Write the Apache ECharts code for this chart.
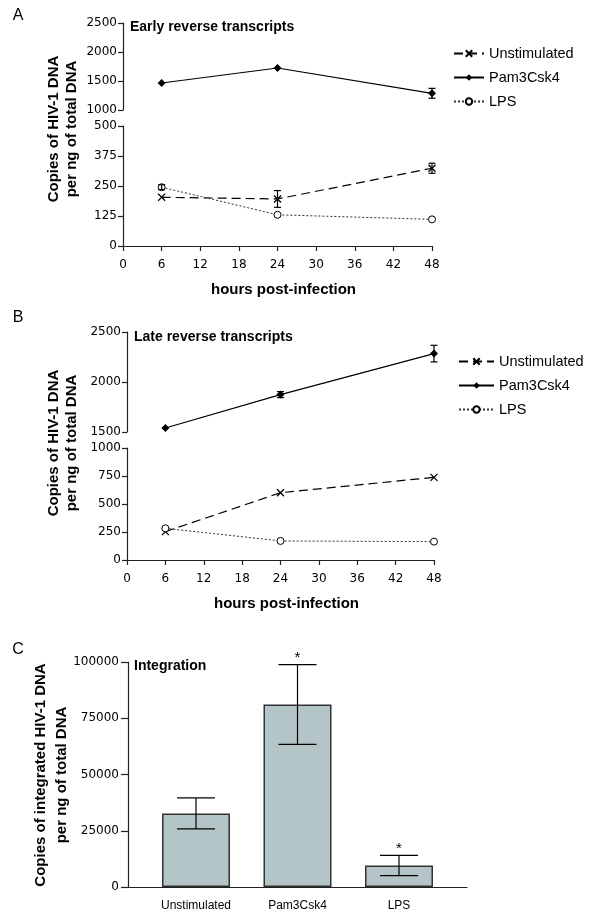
<!DOCTYPE html>
<html>
<head>
<meta charset="utf-8">
<script src="https://cdn.jsdelivr.net/npm/echarts@6/dist/echarts.min.js"></script>
<style>html,body{margin:0;padding:0;background:#fff}#c{width:600px;height:924px}</style>
</head>
<body>
<div id="c"></div>
<script>
// ---- data ----
const hours = [6, 24, 48];
const xTicks = [0, 6, 12, 18, 24, 30, 36, 42, 48];
const seriesNames = ['Unstimulated', 'Pam3Csk4', 'LPS'];

// Panel A: early reverse transcripts
const earlyUnstim = [203, 196, 324];
const earlyUnstimErr = [0, 35, 21];
const earlyPam = [1466, 1724, 1288];
const earlyPamErr = [0, 0, 85];
const earlyLps = [245, 130, 111];
const earlyLpsErr = [10, 0, 0];

// Panel B: late reverse transcripts
const lateUnstim = [253, 601, 738];
const lateUnstimErr = [0, 0, 0];
const latePam = [1540, 1874, 2284];
const latePamErr = [0, 30, 83];
const lateLps = [283, 170, 164];
const lateLpsErr = [0, 0, 0];

// Panel C: integration
const intCategories = ['Unstimulated', 'Pam3Csk4', 'LPS'];
const intMean = [32700, 81100, 9560];
const intErr = [6900, 17700, 4500];
const intSig = ['', '*', '*'];

// ---- styles ----
const AX = '#222';
const numFont = 'DejaVu Sans';
const txtFont = 'Liberation Sans';

const styles = {
  Unstimulated: {
    symbol: 'path://M0,0L10,10M10,0L0,10', symbolSize: 7,
    lineStyle: {color: '#000', width: 1.2, type: [9, 5]},
    itemStyle: {color: '#000', borderColor: '#000', borderWidth: 1.3}
  },
  Pam3Csk4: {
    symbol: 'diamond', symbolSize: 8,
    lineStyle: {color: '#000', width: 1.2, type: 'solid'},
    itemStyle: {color: '#000', borderColor: '#000', borderWidth: 0}
  },
  LPS: {
    symbol: 'circle', symbolSize: 7,
    lineStyle: {color: '#333', width: 1, type: [2, 2]},
    itemStyle: {color: '#fff', borderColor: '#000', borderWidth: 1}
  }
};

function lineSeries(name, xi, yi, vals) {
  const s = styles[name];
  return Object.assign({
    type: 'line', name: name, xAxisIndex: xi, yAxisIndex: yi,
    data: hours.map((h, i) => [h, vals[i]]),
    showSymbol: true, clip: false, z: 3, animation: false
  }, JSON.parse(JSON.stringify(s)));
}

function errSeries(xi, yi, xs, means, errs, cap, sig) {
  return {
    type: 'custom', xAxisIndex: xi, yAxisIndex: yi, z: 6, silent: true, animation: false,
    clip: false,
    data: xs.map((x, i) => [x, means[i], errs[i]]),
    renderItem: function (params, api) {
      const x = api.value(0), m = api.value(1), e = api.value(2);
      const children = [];
      const st = {stroke: '#000', lineWidth: 1.2, fill: null};
      if (e) {
        const t = api.coord([x, m + e]), b = api.coord([x, m - e]);
        children.push({type: 'line', shape: {x1: t[0], y1: t[1], x2: b[0], y2: b[1]}, style: st});
        children.push({type: 'line', shape: {x1: t[0] - cap, y1: t[1], x2: t[0] + cap, y2: t[1]}, style: st});
        children.push({type: 'line', shape: {x1: b[0] - cap, y1: b[1], x2: b[0] + cap, y2: b[1]}, style: st});
        if (sig && sig[params.dataIndex]) {
          children.push({type: 'text', style: {text: sig[params.dataIndex], x: t[0], y: t[1] - 7,
            align: 'center', verticalAlign: 'middle', font: '15px "Liberation Sans"', fill: '#000'}});
        }
      }
      return {type: 'group', children: children};
    }
  };
}

function hiddenX(gi) {
  return {gridIndex: gi, type: 'value', min: 0, max: 48, interval: 6, show: false};
}
function shownX(gi) {
  return {
    gridIndex: gi, type: 'value', min: 0, max: 48, interval: 6,
    name: 'hours post-infection', nameLocation: 'middle', nameGap: 36,
    nameTextStyle: {fontFamily: txtFont, fontWeight: 'bold', fontSize: 15, color: '#000', padding: [0, 0, 0, 12]},
    axisLine: {onZero: false, lineStyle: {color: AX, width: 1.2}},
    axisTick: {show: true, length: 5, lineStyle: {color: AX, width: 1.2}},
    axisLabel: {margin: 13, fontFamily: numFont, fontSize: 12, color: '#000',
      formatter: v => xTicks.indexOf(v) >= 0 ? String(v) : ''},
    splitLine: {show: false}
  };
}
function yAx(gi, min, max, interval, margin, tickLen) {
  return {
    gridIndex: gi, type: 'value', min: min, max: max, interval: interval,
    axisLine: {show: true, onZero: false, lineStyle: {color: AX, width: 1.2}},
    axisTick: {show: true, length: tickLen || 5, lineStyle: {color: AX, width: 1.2}},
    axisLabel: {margin: margin || 6, fontFamily: numFont, fontSize: 12, color: '#000', formatter: v => String(v)},
    splitLine: {show: false}
  };
}

function legend(left, top, w) {
  return {
    data: seriesNames, orient: 'vertical', left: left, top: top, padding: 0,
    itemWidth: w, itemHeight: 8, itemGap: 9, selectedMode: false,
    textStyle: {fontFamily: txtFont, fontSize: 14.5, color: '#000'}
  };
}

function gtext(x, y, text, font, rot, lh) {
  return {
    type: 'text', x: x, y: y, rotation: rot || 0,
    style: {text: text, x: 0, y: 0, align: rot ? 'center' : (x < 40 ? 'center' : 'left'),
      verticalAlign: 'middle', font: font, fill: '#000', lineHeight: lh || 18}
  };
}

const option = {
  backgroundColor: '#fff',
  animation: false,
  grid: [
    {left: 123, top: 23, width: 309, height: 87},
    {left: 123, top: 126, width: 309, height: 120},
    {left: 127, top: 332, width: 307, height: 100},
    {left: 127, top: 448, width: 307, height: 112},
    {left: 128, top: 662, width: 339, height: 225}
  ],
  xAxis: [
    hiddenX(0), shownX(1), hiddenX(2), shownX(3),
    {
      gridIndex: 4, type: 'value', min: -0.67, max: 2.67,
      axisLine: {onZero: false, lineStyle: {color: AX, width: 1.2}},
      axisTick: {show: false},
      splitLine: {show: false},
      axisLabel: {customValues: [0, 1, 2], margin: 13, fontFamily: txtFont, fontSize: 12, color: '#000',
        formatter: v => intCategories[Math.round(v)]}
    }
  ],
  yAxis: [
    yAx(0, 1000, 2500, 500),
    yAx(1, 0, 500, 125),
    yAx(2, 1500, 2500, 500),
    yAx(3, 0, 1000, 250),
    yAx(4, 0, 100000, 25000, 9, 7)
  ],
  legend: [legend(453, 46, 30), legend(458, 354, 35)],
  graphic: [
    gtext(18, 16, 'A', '16px "Liberation Sans"'),
    gtext(18, 318, 'B', '16px "Liberation Sans"'),
    gtext(18, 650, 'C', '16px "Liberation Sans"'),
    gtext(130, 27, 'Early reverse transcripts', 'bold 14px "Liberation Sans"'),
    gtext(134, 337, 'Late reverse transcripts', 'bold 14px "Liberation Sans"'),
    gtext(134, 666, 'Integration', 'bold 14px "Liberation Sans"'),
    gtext(63, 129, 'Copies of HIV-1 DNA\nper ng of total DNA', 'bold 15px "Liberation Sans"', Math.PI / 2, 18),
    gtext(63, 443, 'Copies of HIV-1 DNA\nper ng of total DNA', 'bold 15px "Liberation Sans"', Math.PI / 2, 18),
    gtext(51, 775, 'Copies of integrated HIV-1 DNA\nper ng of total DNA', 'bold 15px "Liberation Sans"', Math.PI / 2, 21)
  ],
  series: [
    // Panel A
    lineSeries('Unstimulated', 1, 1, earlyUnstim),
    lineSeries('Pam3Csk4', 0, 0, earlyPam),
    lineSeries('LPS', 1, 1, earlyLps),
    errSeries(1, 1, hours, earlyUnstim, earlyUnstimErr, 3.5),
    errSeries(0, 0, hours, earlyPam, earlyPamErr, 3.5),
    errSeries(1, 1, hours, earlyLps, earlyLpsErr, 3.5),
    // Panel B
    lineSeries('Unstimulated', 3, 3, lateUnstim),
    lineSeries('Pam3Csk4', 2, 2, latePam),
    lineSeries('LPS', 3, 3, lateLps),
    errSeries(3, 3, hours, lateUnstim, lateUnstimErr, 3.5),
    errSeries(2, 2, hours, latePam, latePamErr, 3.5),
    errSeries(3, 3, hours, lateLps, lateLpsErr, 3.5),
    // Panel C
    {
      type: 'bar', xAxisIndex: 4, yAxisIndex: 4, barWidth: 68, z: 2,
      data: intMean.map((v, i) => [i, v]),
      itemStyle: {color: '#b4c5c8', borderColor: '#333', borderWidth: 1.5}
    },
    errSeries(4, 4, [0, 1, 2], intMean, intErr, 19, intSig)
  ]
};

const chart = echarts.init(document.getElementById('c'), null, {renderer: 'canvas'});
chart.setOption(option);
</script>
</body>
</html>
